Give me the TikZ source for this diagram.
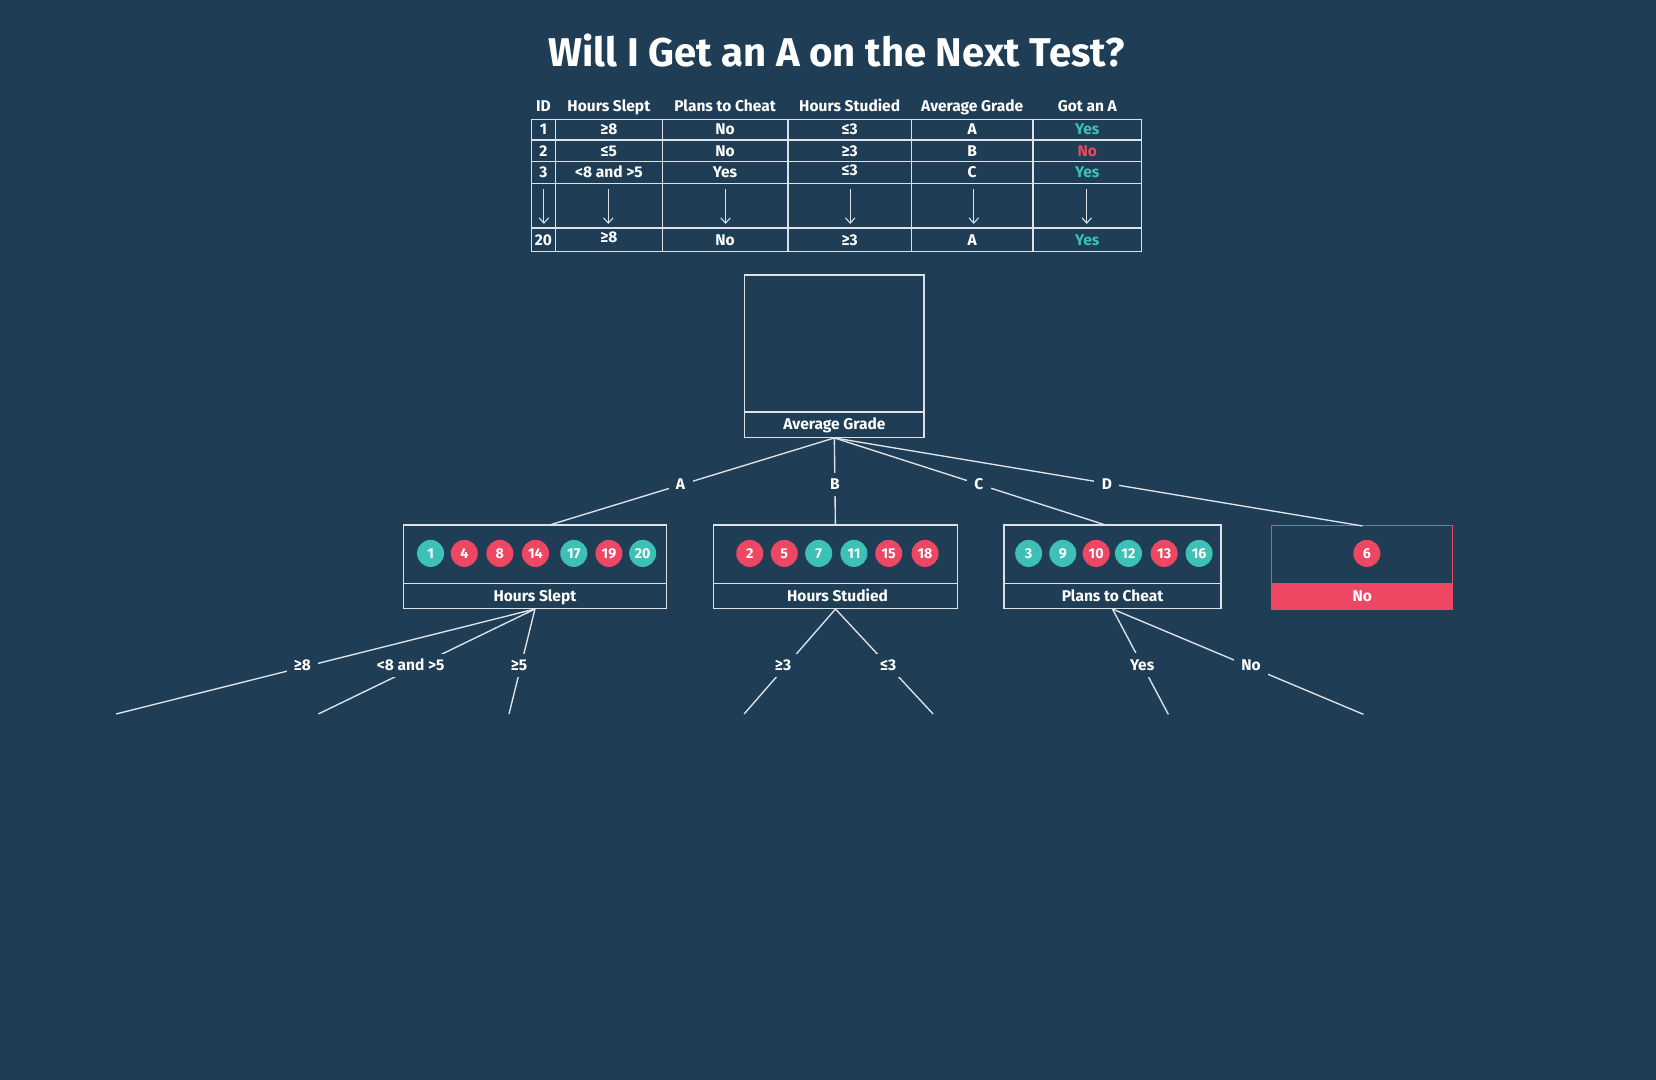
\documentclass[tikz,border=0pt]{standalone}
\usepackage{fontspec}
\setmainfont{Fira Sans}
\usetikzlibrary{arrows.meta,calc}
\definecolor{bg}{HTML}{1F3E56}
\definecolor{tealc}{HTML}{3DC1B6}
\definecolor{redc}{HTML}{EE4763}
\definecolor{linec}{HTML}{DCE2E7}
\tikzset{
  grid/.style={draw=linec, line width=1.3pt},
  ln/.style={draw=linec, line width=1.3pt},
  txt/.style={text=white, font=\fontsize{14.7}{16}\selectfont\bfseries, inner sep=0pt, text height=10pt, text depth=0pt},
  cell/.style={txt},
  lbl/.style={txt, fill=bg, inner xsep=7pt, inner ysep=6pt},
  box/.style={draw=linec, line width=1.3pt, inner sep=0pt},
  ball/.style={circle, minimum size=25.6pt, inner sep=0pt, font=\fontsize{13.5}{14}\selectfont\bfseries, text=white},
  tb/.style={ball, fill=tealc},
  rb/.style={ball, fill=redc},
  tarrow/.style={draw=linec, line width=1pt, -{Straight Barb[length=5pt,width=9pt]}},
}
\begin{document}
\begin{tikzpicture}[x=1pt,y=-1pt]
\fill[bg] (0,0) rectangle (1568,1022.6);
\useasboundingbox (0,0) rectangle (1568,1022.6);

% title
\node[text=white, font=\fontsize{38}{44}\selectfont\bfseries, inner sep=0pt, text height=27pt, text depth=0pt] (title) at (792,49) {Will I Get an A on the Next Test?};

% table grid
\draw[grid] (503,113) rectangle (1081,238);
\foreach \y in {132.5,153,174,216} \draw[grid] (503,\y) -- (1081,\y);
\foreach \x in {526,627,746,863,978} \draw[grid] (\x,113) -- (\x,238);

% header
\foreach \i/\x/\t in {1/514.5/ID, 2/576.5/Hours Slept, 3/686.5/Plans to Cheat, 4/804.5/Hours Studied, 5/920.5/Average Grade, 6/1029.5/Got an A}
  \node[cell] (h\i) at (\x,101) {\t};
% rows
\foreach \i/\x/\t/\c/\s in {1/514.5/1/white/0, 2/576.5/≥8/white/0, 3/686.5/No/white/0, 4/804.5/≤3/white/0, 5/920.5/A/white/0, 6/1029.5/Yes/tealc/0}
  \node[cell, text=\c, yshift=\s pt] (ra\i) at (\x,122.75) {\t};
\foreach \i/\x/\t/\c/\s in {1/514.5/2/white/0, 2/576.5/≤5/white/0, 3/686.5/No/white/0, 4/804.5/≥3/white/0, 5/920.5/B/white/0, 6/1029.5/No/redc/0}
  \node[cell, text=\c, yshift=\s pt] (rb\i) at (\x,142.75) {\t};
\foreach \i/\x/\t/\c/\s in {1/514.5/3/white/0, 2/576.5/<8 and >5/white/0, 3/686.5/Yes/white/0, 4/804.5/≤3/white/2, 5/920.5/C/white/0, 6/1029.5/Yes/tealc/0}
  \node[cell, text=\c, yshift=\s pt] (rc\i) at (\x,163.5) {\t};
\foreach \i/\x/\t/\c/\s in {1/514.5/20/white/0, 2/576.5/≥8/white/2, 3/686.5/No/white/0, 4/804.5/≥3/white/0, 5/920.5/A/white/0, 6/1029.5/Yes/tealc/0}
  \node[cell, text=\c, yshift=\s pt] (rd\i) at (\x,227) {\t};
% arrows
\foreach \i/\x in {1/515, 2/576, 3/687, 4/805, 5/922, 6/1029} {
  \coordinate (as\i) at (\x,179);
  \coordinate (ae\i) at (\x,212);
  \draw[tarrow] (as\i) -- (ae\i);
}

% root
\node[box, minimum width=170pt, minimum height=153.5pt] (root) at (790,337.25) {};
\draw[ln] (705,390) -- (875,390);
\node[txt] (rootlab) at (790,402) {Average Grade};

% level 1 boxes
\node[box, minimum width=249pt, minimum height=79pt] (hs) at (506.5,536.5) {};
\draw[ln] (382,552.4) -- (631,552.4);
\node[txt] (hslab) at (506.5,564.3) {Hours Slept};

\node[box, minimum width=231.2pt, minimum height=79pt] (hst) at (791.1,536.5) {};
\draw[ln] (675.5,552.4) -- (906.7,552.4);
\node[txt] (hstlab) at (793,564.3) {Hours Studied};

\node[box, minimum width=205.3pt, minimum height=79pt] (ptc) at (1053.4,536.5) {};
\draw[ln] (950.7,552.4) -- (1156,552.4);
\node[txt] (ptclab) at (1053.4,564.3) {Plans to Cheat};

\node[draw=redc, line width=0.8pt, minimum width=171.4pt, minimum height=78.7pt, inner sep=0pt] (leaf) at (1289.9,537.3) {};
\fill[redc] (1204.2,552.4) rectangle (1375.6,576.7);
\node[txt] (leaflab) at (1289.9,564.5) {No};

% balls
\foreach \x/\n/\s in {407.7/1/tb, 439.6/4/rb, 473.3/8/rb, 507/14/rb, 543.3/17/tb, 576.6/19/rb, 608.5/20/tb}
  \node[\s] (b\n) at (\x,524) {\n};
\foreach \x/\n/\s in {709.9/2/rb, 742.6/5/rb, 775.2/7/tb, 808.5/11/tb, 841.5/15/rb, 875.9/18/rb}
  \node[\s] (b\n) at (\x,524) {\n};
\foreach \x/\n/\s in {974/3/tb, 1006.3/9/tb, 1037.9/10/rb, 1068.5/12/tb, 1102.3/13/rb, 1135.4/16/tb}
  \node[\s] (b\n) at (\x,524) {\n};
\node[rb] (b6) at (1294.2,524) {6};

% level 1 edges
\coordinate (hsT) at (519,497.5);
\coordinate (hstT) at (791,497.5);
\coordinate (ptcT) at (1048,497.5);
\coordinate (leafT) at (1290,498);
\draw[ln] (root.south) -- node[lbl, pos=0.53, xshift=-2pt] (lA) {A} (hsT);
\draw[ln] (root.south) -- node[lbl, pos=0.53] (lB) {B} (hstT);
\draw[ln] (root.south) -- node[lbl, pos=0.53] (lC) {C} (ptcT);
\draw[ln] (root.south) -- node[lbl, pos=0.53, xshift=-7pt] (lD) {D} (leafT);

% level 2 edges
\coordinate (e1) at (110,676);
\coordinate (e2) at (301.5,676);
\coordinate (e3) at (482,676);
\coordinate (e4) at (704.6,676);
\coordinate (e5) at (883.5,676);
\coordinate (e6) at (1106.3,676.5);
\coordinate (e7) at (1291,676.4);
\draw[ln] (hs.south) -- node[lbl, pos=0.535, xshift=-8pt] (l1) {≥8} (e1);
\draw[ln] (hs.south) -- node[lbl, pos=0.535, xshift=-8pt] (l2) {<8 and >5} (e2);
\draw[ln] (hs.south) -- node[lbl, pos=0.535, xshift=-2pt] (l3) {≥5} (e3);
\draw[ln] (hst.south) -- node[lbl, pos=0.54, xshift=-3pt] (l4) {≥3} (e4);
\draw[ln] (hst.south) -- node[lbl, pos=0.54] (l5) {≤3} (e5);
\draw[ln] (ptc.south) -- node[lbl, pos=0.53] (l6) {Yes} (e6);
\draw[ln] (ptc.south) -- node[lbl, pos=0.535, xshift=4pt] (l7) {No} (e7);
\end{tikzpicture}
\end{document}
